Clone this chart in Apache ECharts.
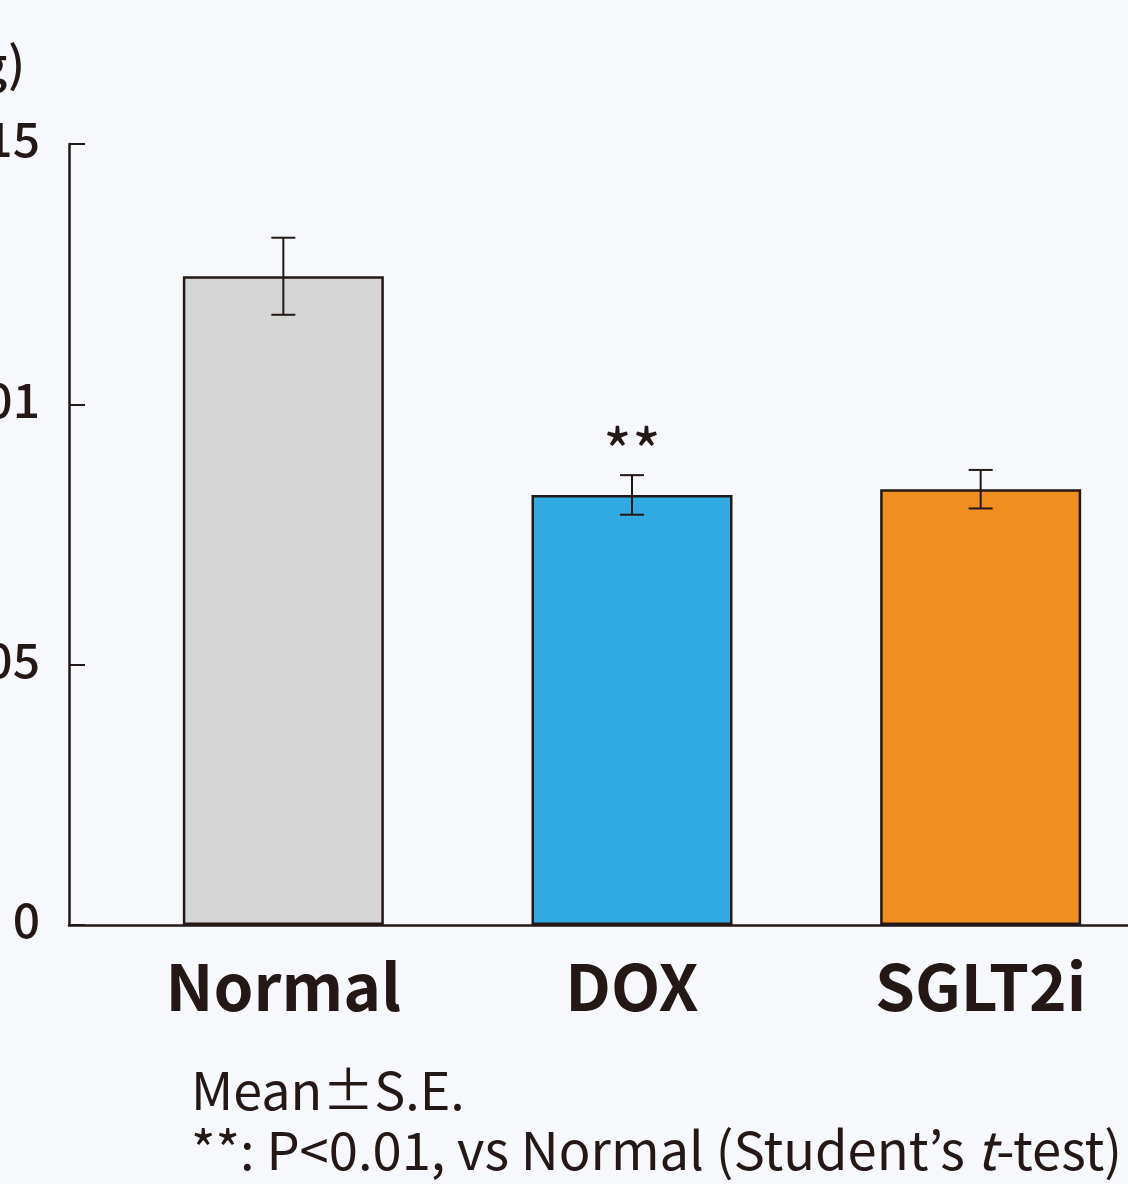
<!DOCTYPE html>
<html>
<head>
<meta charset="utf-8">
<style>
  html, body { margin: 0; padding: 0; background: #f7f8fc; }
  #chart { width: 1128px; height: 1184px; }
</style>
<script src="https://cdn.jsdelivr.net/npm/echarts@6/dist/echarts.min.js"></script>
</head>
<body>
<div id="chart"></div>
<script>
// Group means and standard errors (g)
const groups = ['Normal', 'DOX', 'SGLT2i'];
const means = [0.01246, 0.00826, 0.00837];
const errors = [0.00074, 0.00038, 0.00037];
const significance = ['', '**', ''];
const yTicks = [0, 0.005, 0.01, 0.015];

const barColors = ['#d6d6d6', '#31a9e2', '#f18e20'];
const ink = '#231815';
const font = '"Noto Sans CJK JP", "Noto Sans", sans-serif';

const chart = echarts.init(document.getElementById('chart'));

const yMin = yTicks[0];
const yMax = yTicks[yTicks.length - 1];
const yStep = yTicks[1] - yTicks[0];

chart.setOption({
  backgroundColor: '#f7f8fc',
  animation: false,
  grid: [
    // frame grid: carries the axis lines
    { left: 69, right: -40, top: 144, bottom: 259, outerBoundsMode: 'none', containLabel: false },
    // plotting grid for the bars
    { left: 109, right: -27, top: 144, bottom: 259, outerBoundsMode: 'none', containLabel: false }
  ],
  xAxis: [
    {
      gridIndex: 0, type: 'value', min: 0, max: 1,
      axisLine: { show: true, lineStyle: { color: ink, width: 2.5 } },
      axisTick: { show: false }, axisLabel: { show: false }, splitLine: { show: false }
    },
    {
      gridIndex: 1, type: 'category', data: groups,
      axisLine: { show: false }, axisTick: { show: false },
      axisLabel: {
        color: ink, fontFamily: font, fontWeight: 'bold', fontSize: 64, margin: 30
      }
    }
  ],
  yAxis: [
    {
      gridIndex: 0, type: 'value', min: yMin, max: yMax, interval: yStep,
      name: '(g)', nameLocation: 'end', nameGap: 56,
      nameTextStyle: { color: ink, fontFamily: font, fontWeight: 500, fontSize: 48, align: 'right', padding: [0, 44, 0, 0] },
      axisLine: { show: true, lineStyle: { color: ink, width: 2.5 } },
      axisTick: { show: true, inside: true, length: 16, lineStyle: { color: ink, width: 2 } },
      axisLabel: {
        color: ink, fontFamily: font, fontWeight: 500, fontSize: 48, margin: 29,
        verticalAlign: 'bottom', lineHeight: 10,
        formatter: v => String(+v.toFixed(3))
      },
      splitLine: { show: false }
    },
    {
      gridIndex: 1, type: 'value', min: yMin, max: yMax, interval: yStep,
      show: false
    }
  ],
  series: [
    {
      type: 'bar', xAxisIndex: 1, yAxisIndex: 1, barWidth: 201,
      data: means.map((v, i) => ({
        value: v,
        itemStyle: { color: barColors[i], borderColor: ink, borderWidth: 2.5 }
      }))
    },
    {
      type: 'custom', xAxisIndex: 1, yAxisIndex: 1, z: 10,
      data: means.map((v, i) => [i, v - errors[i], v + errors[i]]),
      renderItem: (params, api) => {
        const i = api.value(0);
        const lo = api.coord([i, api.value(1)]);
        const hi = api.coord([i, api.value(2)]);
        const cap = 12;
        const style = { stroke: ink, lineWidth: 2 };
        const children = [
          { type: 'line', shape: { x1: lo[0], y1: lo[1], x2: hi[0], y2: hi[1] }, style },
          { type: 'line', shape: { x1: hi[0] - cap, y1: hi[1], x2: hi[0] + cap, y2: hi[1] }, style },
          { type: 'line', shape: { x1: lo[0] - cap, y1: lo[1], x2: lo[0] + cap, y2: lo[1] }, style }
        ];
        if (significance[i]) {
          children.push({
            type: 'text',
            style: {
              text: significance[i], x: hi[0], y: hi[1] - 24,
              align: 'center', verticalAlign: 'middle',
              fill: ink, font: '400 62px ' + font
            }
          });
        }
        return { type: 'group', children };
      }
    }
  ],
  graphic: [
    {
      type: 'text', left: 191, top: 1064,
      style: { text: 'Mean\u00B1S.E.', fill: ink, font: '400 52px ' + font }
    },
    {
      type: 'text', left: 191, top: 1124,
      style: {
        text: '{n|**: P<0.01, vs Normal (Student\u2019s }{i|t}{n|-test)}',
        rich: {
          n: { fill: ink, font: '400 52.5px ' + font },
          i: { fill: ink, font: 'italic 400 52.5px ' + font }
        }
      }
    }
  ]
});
</script>
</body>
</html>
